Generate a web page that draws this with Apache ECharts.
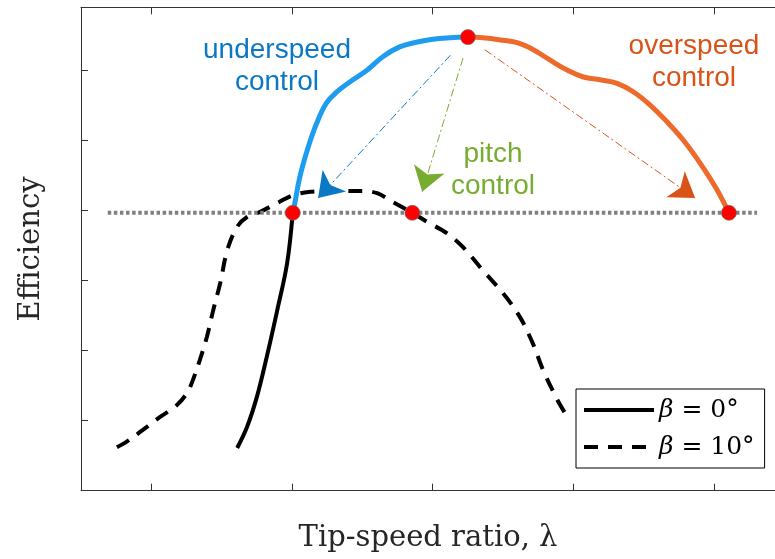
<!DOCTYPE html>
<html>
<head>
<meta charset="utf-8">
<script src="https://cdn.jsdelivr.net/npm/echarts@6/dist/echarts.min.js"></script>
<style>html,body{margin:0;padding:0;background:#fff}#c{width:775px;height:559px}</style>
</head>
<body>
<div id="c"></div>
<script>
// ---- data (x: tip-speed ratio units, y: efficiency units) ----
const xTicks = [1, 3, 5, 7, 9];
const yTicks = [1, 2, 3, 4, 5, 6];

const beta0X = [2.22, 2.36, 2.50, 2.64, 2.79, 2.93, 3.01];
const beta0Y = [0.61, 0.91, 1.34, 1.91, 2.58, 3.25, 3.97];

const underX = [3.01, 3.04, 3.11, 3.23, 3.35, 3.49, 3.64, 3.82, 4.07, 4.29, 4.53, 4.78, 5.00, 5.25, 5.50];
const underY = [3.97, 4.11, 4.48, 4.91, 5.25, 5.54, 5.70, 5.84, 6.01, 6.20, 6.34, 6.41, 6.45, 6.47, 6.48];

const overX = [5.50, 5.71, 5.96, 6.20, 6.43, 6.67, 6.91, 7.14, 7.38, 7.62, 7.85, 8.09, 8.33, 8.56, 8.80, 9.04, 9.21];
const overY = [6.48, 6.47, 6.44, 6.40, 6.30, 6.15, 6.01, 5.91, 5.87, 5.82, 5.70, 5.51, 5.27, 5.01, 4.68, 4.30, 3.97];

const beta10X = [0.51, 0.65, 0.88, 1.12, 1.36, 1.51, 1.59, 1.69, 1.79, 1.88, 1.98, 2.08, 2.22, 2.36, 2.54, 2.79, 3.01, 3.26, 3.50, 3.78, 4.01, 4.21, 4.44, 4.71, 4.92, 5.20, 5.43, 5.71, 6.00, 6.24, 6.42, 6.57, 6.77, 6.88];
const beta10Y = [0.62, 0.70, 0.87, 1.05, 1.22, 1.40, 1.58, 1.87, 2.20, 2.58, 2.97, 3.44, 3.77, 3.91, 3.98, 4.11, 4.22, 4.27, 4.28, 4.28, 4.28, 4.25, 4.12, 3.97, 3.84, 3.68, 3.48, 3.15, 2.82, 2.48, 2.11, 1.72, 1.30, 1.11];

const refLineX = [0.38, 9.61];
const refLineY = [3.97, 3.97];

const dotsX = [3.01, 5.50, 4.71, 9.21];
const dotsY = [3.97, 6.48, 3.97, 3.97];

const arrowNames = ['underspeed', 'pitch', 'overspeed'];
const arrowFromX = [5.25, 5.43, 5.74];
const arrowFromY = [6.22, 6.18, 6.30];
const arrowToX = [3.37, 4.85, 8.73];
const arrowToY = [4.18, 4.27, 4.18];

const annotText = ['underspeed\ncontrol', 'pitch\ncontrol', 'overspeed\ncontrol'];
const legendNames = ['β = 0°', 'β = 10°'];
const xName = 'Tip-speed ratio, λ';
const yName = 'Efficiency';

// ---- styles ----
const colBlue = '#1E9DF0', colOrange = '#EE6A2A';
const txtBlue = '#0B78C6', txtOrange = '#D95319', txtGreen = '#77AC30';
const arrowCols = [txtBlue, txtGreen, txtOrange];
const axisCol = '#333333';

const zip = (xs, ys) => xs.map((x, i) => [x, ys[i]]);

const chart = echarts.init(document.getElementById('c'), null, { renderer: 'canvas' });

const axisCommon = {
  type: 'value', min: 0, max: 9.865,
  axisLine: { show: true, lineStyle: { color: axisCol, width: 1 } },
  axisTick: { show: true, inside: true, length: 7, customValues: xTicks, lineStyle: { color: axisCol } },
  axisLabel: { show: false },
  splitLine: { show: false }
};

chart.setOption({
  animation: false,
  backgroundColor: '#fff',
  grid: { left: 81, top: 7.3, right: 0, bottom: 68.3, containLabel: false, outerBoundsMode: 'none' },
  xAxis: [
    Object.assign({}, axisCommon, {
      position: 'bottom', name: xName, nameLocation: 'middle', nameGap: 33,
      nameTextStyle: { fontFamily: 'DejaVu Serif', fontSize: 29, color: '#262626' }
    }),
    Object.assign({}, axisCommon, { position: 'top' })
  ],
  yAxis: {
    type: 'value', min: 0, max: 6.906,
    axisLine: { show: true, lineStyle: { color: axisCol, width: 1 } },
    axisTick: { show: true, inside: true, length: 7, customValues: yTicks, lineStyle: { color: axisCol } },
    axisLabel: { show: false },
    splitLine: { show: false },
    name: yName, nameLocation: 'middle', nameGap: 35,
    nameTextStyle: { fontFamily: 'DejaVu Serif', fontSize: 29, color: '#262626' }
  },
  legend: {
    data: legendNames,
    orient: 'vertical',
    left: 576, top: 389,
    padding: [6, 10, 6, 6],
    itemGap: 7,
    itemWidth: 70, itemHeight: 14,
    backgroundColor: '#fff',
    borderColor: '#000', borderWidth: 1,
    selectedMode: false,
    itemStyle: { opacity: 0 },
    lineStyle: { width: 4 },
    formatter: function (n) { return '{i|β}{r|' + n.slice(1) + '}'; },
    textStyle: {
      lineHeight: 30,
      rich: {
        i: { fontFamily: 'DejaVu Serif', fontStyle: 'italic', fontSize: 25, color: '#000' },
        r: { fontFamily: 'DejaVu Serif', fontSize: 25, color: '#000' }
      }
    }
  },
  series: [
    {
      name: legendNames[1], type: 'line', data: zip(beta10X, beta10Y), smooth: 0.35,
      symbol: 'none', lineStyle: { color: '#000', width: 4, type: [14, 10] }, itemStyle: { color: '#000' }, z: 2
    },
    {
      name: legendNames[0], type: 'line', data: zip(beta0X, beta0Y), smooth: 0.35,
      symbol: 'none', lineStyle: { color: '#000', width: 4 }, itemStyle: { color: '#000' }, z: 2
    },
    {
      name: 'under', type: 'line', data: zip(underX, underY), smooth: 0.4,
      symbol: 'none', lineStyle: { color: colBlue, width: 5 }, z: 3
    },
    {
      name: 'over', type: 'line', data: zip(overX, overY), smooth: 0.4,
      symbol: 'none', lineStyle: { color: colOrange, width: 5 }, z: 3
    },
    {
      name: 'ref', type: 'line', data: zip(refLineX, refLineY),
      symbol: 'none', lineStyle: { color: '#808080', width: 4, type: [3.5, 2.6] }, z: 4
    },
    {
      name: 'arrows', type: 'lines', coordinateSystem: 'cartesian2d',
      symbol: ['none', 'arrow'], symbolSize: 24,
      data: arrowNames.map((n, i) => ({
        name: n,
        coords: [[arrowFromX[i], arrowFromY[i]], [arrowToX[i], arrowToY[i]]],
        lineStyle: { color: arrowCols[i] }
      })),
      lineStyle: { width: 1, type: [8, 3, 2, 3], opacity: 1 }, z: 5
    },
    {
      name: 'points', type: 'scatter', data: zip(dotsX, dotsY),
      symbol: 'circle', symbolSize: 15,
      itemStyle: { color: '#FF0000', borderColor: 'rgba(110,110,110,0.7)', borderWidth: 1, opacity: 1 }, z: 6
    }
  ],
  graphic: [
    { type: 'text', x: 277, y: 66, z: 10,
      style: { text: annotText[0], fill: txtBlue, font: '28px "Liberation Sans", Arial, sans-serif', align: 'center', verticalAlign: 'middle', lineHeight: 32 } },
    { type: 'text', x: 493, y: 170, z: 10,
      style: { text: annotText[1], fill: txtGreen, font: '28px "Liberation Sans", Arial, sans-serif', align: 'center', verticalAlign: 'middle', lineHeight: 32 } },
    { type: 'text', x: 694, y: 62, z: 10,
      style: { text: annotText[2], fill: txtOrange, font: '28px "Liberation Sans", Arial, sans-serif', align: 'center', verticalAlign: 'middle', lineHeight: 32 } }
  ]
});
</script>
</body>
</html>
